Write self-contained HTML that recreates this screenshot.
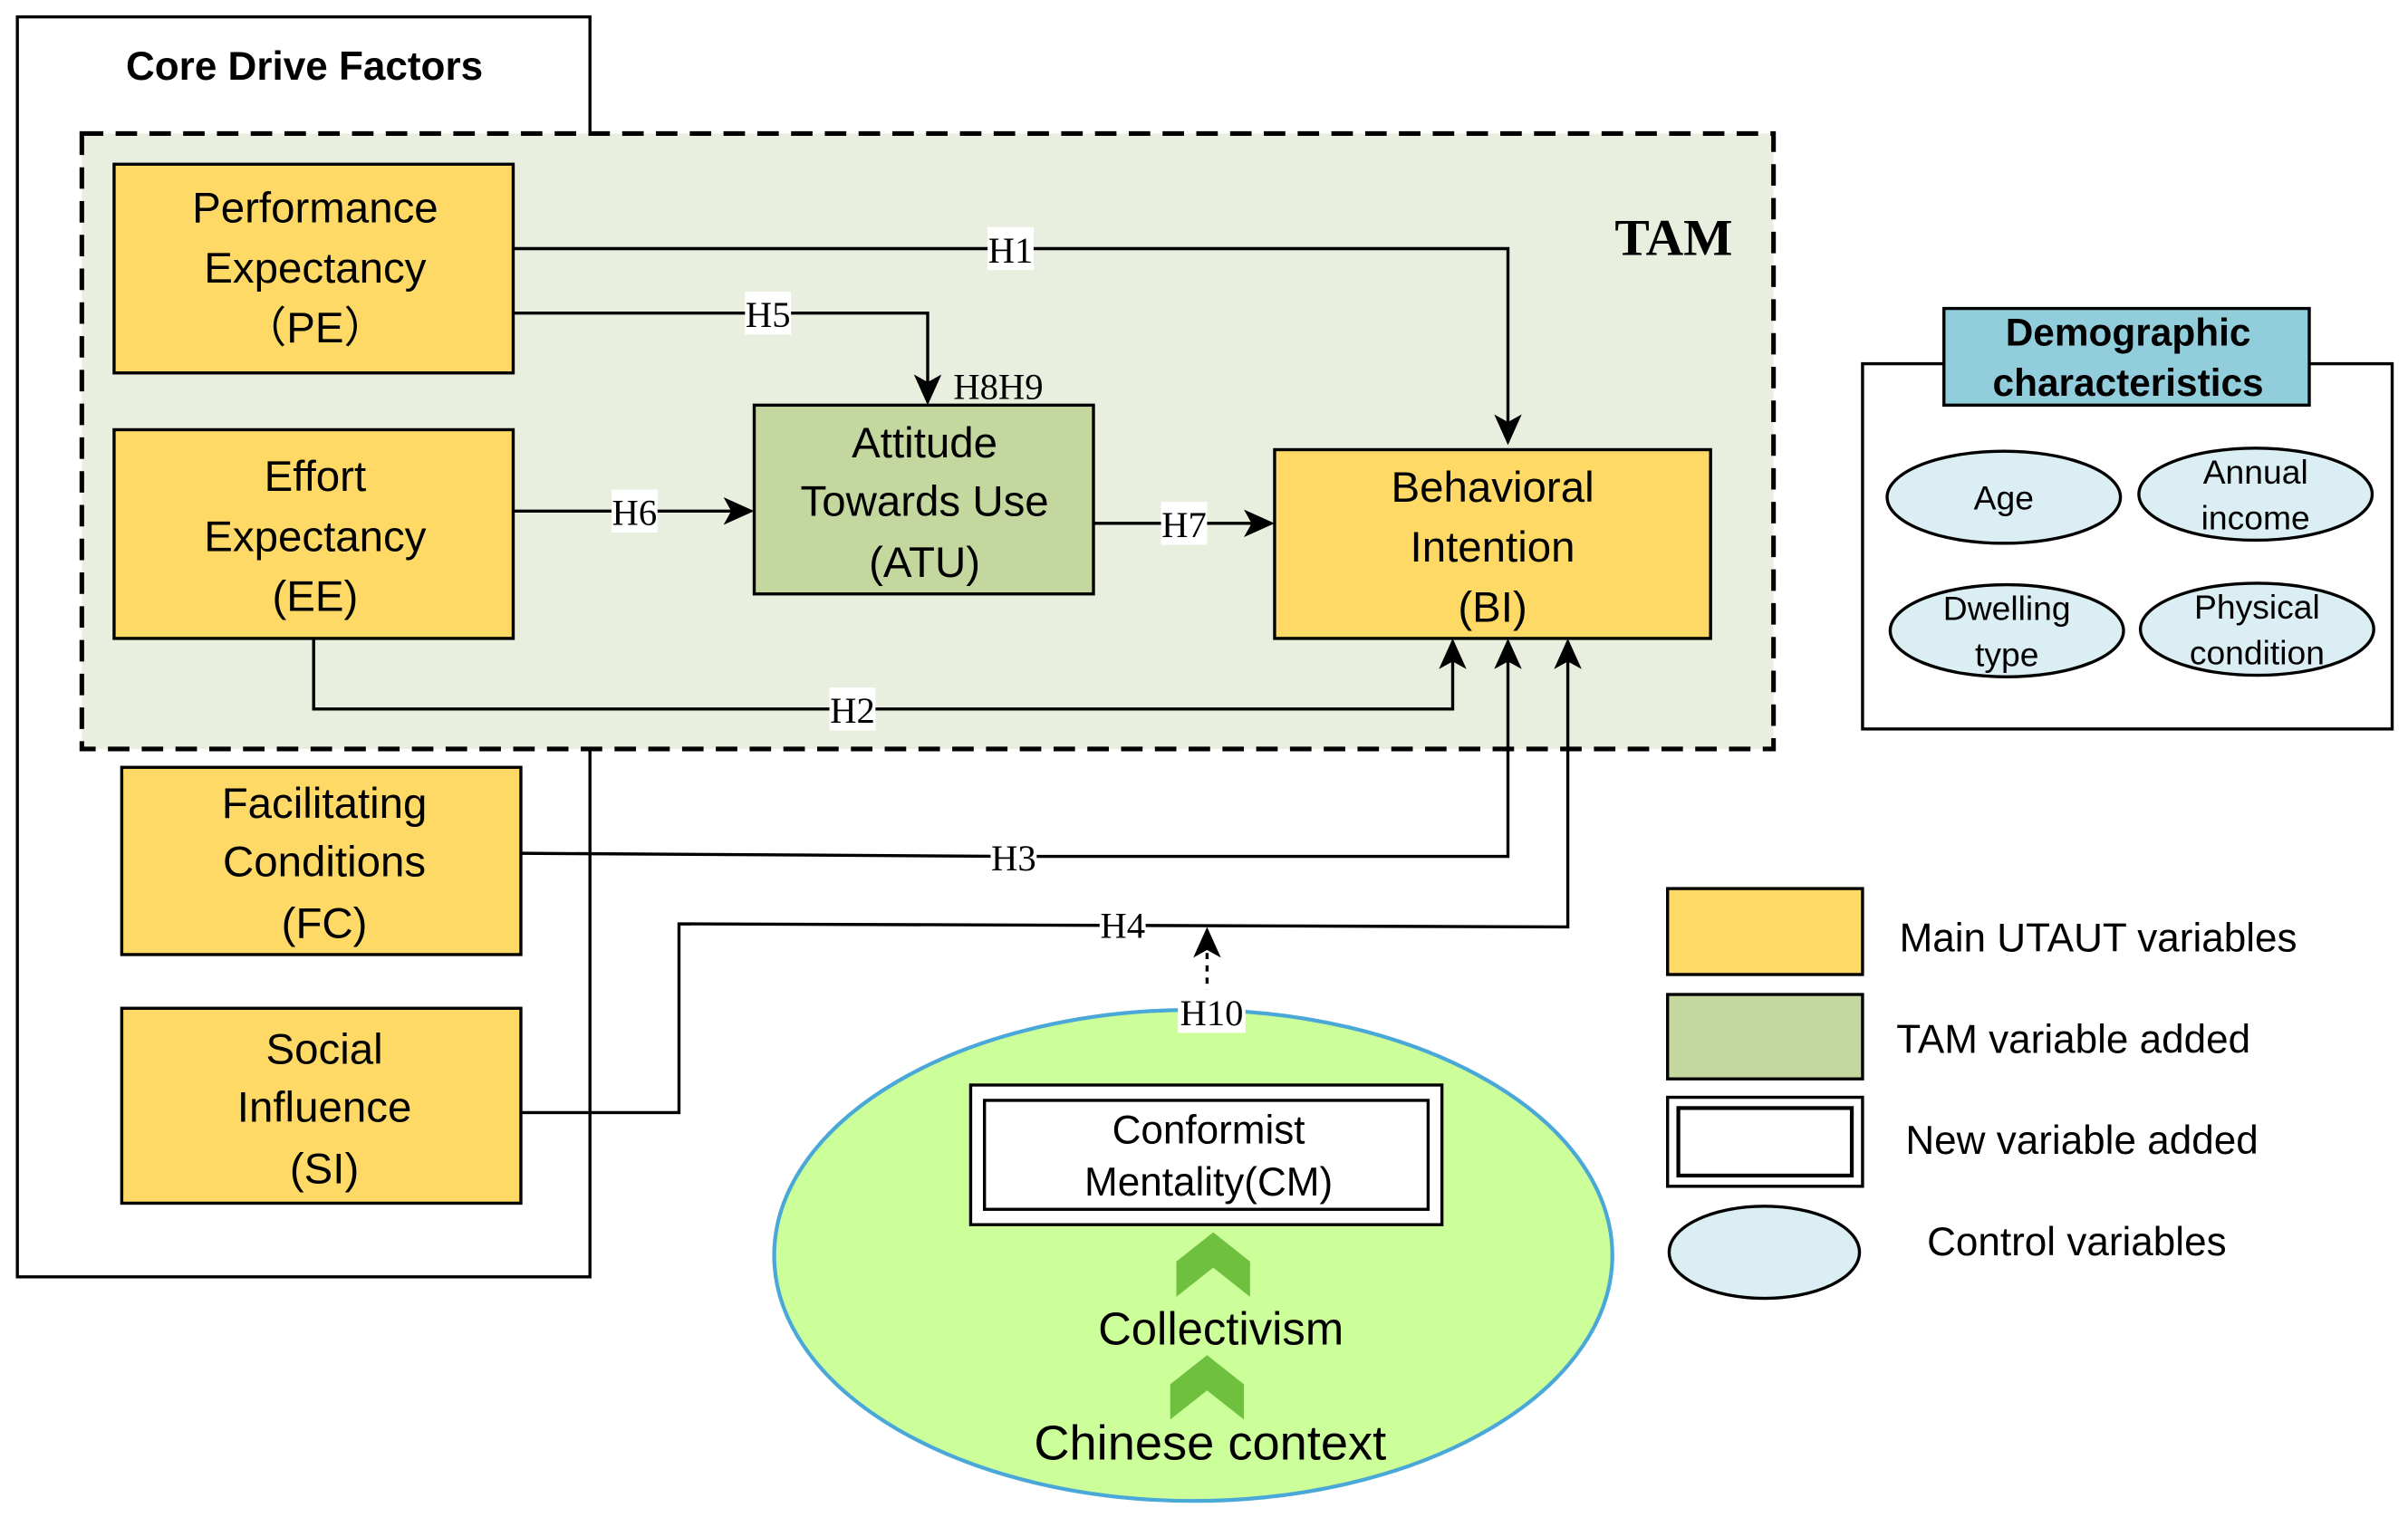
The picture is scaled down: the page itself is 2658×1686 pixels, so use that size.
<!DOCTYPE html>
<html><head><meta charset="utf-8"><style>html,body{margin:0;padding:0;background:#fff}svg{display:block}</style></head>
<body>
<svg width="2658" height="1686" viewBox="0 0 1568 995" xmlns="http://www.w3.org/2000/svg" font-family="'Liberation Sans', sans-serif">
<defs>
<marker id="a" markerWidth="10" markerHeight="10" refX="9" refY="5" orient="auto" markerUnits="userSpaceOnUse"><path d="M0,0 L10,5 L0,10 z" fill="#000"/></marker>
<marker id="b" markerWidth="20" markerHeight="18" refX="18" refY="9" orient="auto" markerUnits="userSpaceOnUse"><path d="M0,0 L20,9 L0,18 L5,9 z" fill="#000"/></marker>
</defs>
<rect x="11" y="11" width="373" height="821" fill="none" stroke="#000" stroke-width="2"/>
<text x="198" y="52" font-size="26" font-weight="bold" text-anchor="middle">Core Drive Factors</text>
<rect x="53" y="87" width="1102" height="401" fill="#e9efde" stroke="#000" stroke-width="3" stroke-dasharray="14,8"/>
<text x="1090" y="166" font-size="34" font-weight="bold" font-family="'Liberation Serif', serif" text-anchor="middle">TAM</text>

<g stroke="#000" stroke-width="2" fill="none">
<polyline points="334,162 982,162 982,288" marker-end="url(#b)"/>
<polyline points="334,204 604,204 604,262" marker-end="url(#b)"/>
<line x1="334" y1="333" x2="489" y2="333" marker-end="url(#b)"/>
<line x1="712" y1="341" x2="828" y2="341" marker-end="url(#b)"/>
<polyline points="204,416 204,462 946,462 946,418" marker-end="url(#b)"/>
<polyline points="339,556 659,558 982,558 982,418" marker-end="url(#b)"/>
<polyline points="339,725 442,725 442,602 1021,604 1021,418" marker-end="url(#b)"/>
<line x1="786" y1="705" x2="786" y2="606" stroke-dasharray="4,4" marker-end="url(#b)"/>
</g>

<g fill="#fed966" stroke="#000" stroke-width="2">
<rect x="74" y="107" width="260" height="136"/>
<rect x="74" y="280" width="260" height="136"/>
<rect x="830" y="293" width="284" height="123"/>
<rect x="79" y="500" width="260" height="122"/>
<rect x="79" y="657" width="260" height="127"/>
</g>
<rect x="491" y="264" width="221" height="123" fill="#c4d79f" stroke="#000" stroke-width="2"/>

<g font-size="28" text-anchor="middle">
<text x="205" y="145">Performance</text><text x="205" y="184">Expectancy</text><text x="205" y="223">（PE）</text>
<text x="205" y="320">Effort</text><text x="205" y="359">Expectancy</text><text x="205" y="398">(EE)</text>
<text x="602" y="298">Attitude</text><text x="602" y="336">Towards Use</text><text x="602" y="376">(ATU)</text>
<text x="972" y="327">Behavioral</text><text x="972" y="366">Intention</text><text x="972" y="405">(BI)</text>
<text x="211" y="533">Facilitating</text><text x="211" y="571">Conditions</text><text x="211" y="611">(FC)</text>
<text x="211" y="693">Social</text><text x="211" y="731">Influence</text><text x="211" y="771">(SI)</text>
</g>

<g font-family="'Liberation Serif', serif" font-size="24" text-anchor="middle">
<rect x="643" y="148" width="30" height="28" fill="#fff"/><text x="658" y="171">H1</text>
<rect x="485" y="190" width="30" height="28" fill="#fff"/><text x="500" y="213">H5</text>
<text x="650" y="260">H8H9</text>
<rect x="398" y="319" width="30" height="28" fill="#fff"/><text x="413" y="342">H6</text>
<rect x="756" y="327" width="30" height="28" fill="#fff"/><text x="771" y="350">H7</text>
<rect x="540" y="448" width="30" height="28" fill="#fff"/><text x="555" y="471">H2</text>
<rect x="645" y="544" width="30" height="28" fill="#fff"/><text x="660" y="567">H3</text>
<rect x="716" y="588" width="30" height="28" fill="#fff"/><text x="731" y="611">H4</text>
</g>

<ellipse cx="777" cy="818" rx="273" ry="160" fill="#ccff99" stroke="#4aa8d8" stroke-width="2.5"/>
<rect x="767" y="645" width="44" height="28" fill="#fff"/>
<text x="789" y="668" font-family="'Liberation Serif', serif" font-size="24" text-anchor="middle">H10</text>
<rect x="632" y="707" width="307" height="91" fill="#fff" stroke="#000" stroke-width="2"/>
<rect x="641" y="717" width="289" height="71" fill="#fff" stroke="#000" stroke-width="2"/>
<text x="787" y="745" font-size="26" text-anchor="middle">Conformist</text>
<text x="787" y="779" font-size="26" text-anchor="middle">Mentality(CM)</text>
<path d="M766,822 L790,803 L814,822 L814,845 L790,826 L766,845 z" fill="#70c040"/>
<path d="M762,902 L786,883 L810,902 L810,925 L786,906 L762,925 z" fill="#70c040"/>
<text x="795" y="876" font-size="30" text-anchor="middle">Collectivism</text>
<text x="788" y="951" font-size="32" text-anchor="middle">Chinese context</text>

<rect x="1213" y="237" width="345" height="238" fill="#fff" stroke="#000" stroke-width="2"/>
<rect x="1266" y="201" width="238" height="63" fill="#92cddc" stroke="#000" stroke-width="2"/>
<text x="1386" y="225" font-size="25" font-weight="bold" text-anchor="middle">Demographic</text>
<text x="1386" y="258" font-size="25" font-weight="bold" text-anchor="middle">characteristics</text>
<g fill="#daeef3" stroke="#000" stroke-width="2">
<ellipse cx="1305" cy="324" rx="76" ry="30"/><ellipse cx="1469" cy="322" rx="76" ry="30"/>
<ellipse cx="1307" cy="411" rx="76" ry="30"/><ellipse cx="1470" cy="410" rx="76" ry="30"/>
</g>
<g font-size="22" text-anchor="middle">
<text x="1305" y="332">Age</text>
<text x="1469" y="315">Annual</text><text x="1469" y="345">income</text>
<text x="1307" y="404">Dwelling</text><text x="1307" y="434">type</text>
<text x="1470" y="403">Physical</text><text x="1470" y="433">condition</text>
</g>

<rect x="1086" y="579" width="127" height="56" fill="#fed966" stroke="#000" stroke-width="2"/>
<rect x="1086" y="648" width="127" height="55" fill="#c4d79f" stroke="#000" stroke-width="2"/>
<rect x="1086" y="715" width="127" height="58" fill="#fff" stroke="#000" stroke-width="2"/>
<rect x="1093" y="722" width="113" height="44" fill="#fff" stroke="#000" stroke-width="2.5"/>
<ellipse cx="1149" cy="816" rx="62" ry="30" fill="#daeef3" stroke="#000" stroke-width="2"/>
<g font-size="26">
<text x="1237" y="620">Main UTAUT variables</text>
<text x="1235" y="686">TAM variable added</text>
<text x="1241" y="752">New variable added</text>
<text x="1255" y="818">Control variables</text>
</g>
</svg>
</body></html>
